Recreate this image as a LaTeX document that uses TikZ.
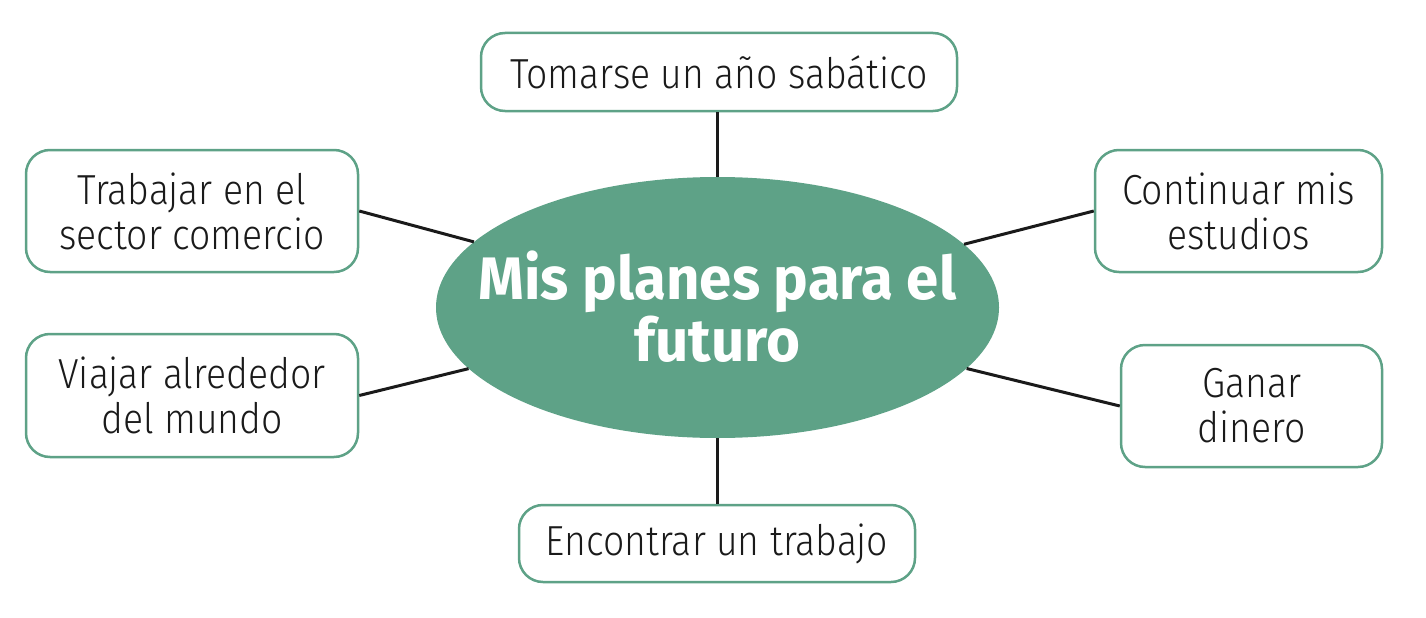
\documentclass[tikz,border=0pt]{standalone}
\usepackage{fontspec}
\setmainfont[FakeStretch=0.89]{Fira Sans Light}
\newfontfamily\titlefont[FakeStretch=0.97]{Fira Sans}
\usetikzlibrary{shapes.geometric}
\definecolor{grn}{HTML}{5EA287}
\definecolor{ln}{HTML}{1A1A1A}
\begin{document}
\begin{tikzpicture}[x=1pt,y=-1pt,
  box/.style={draw=grn, line width=2.5pt, rounded corners=24pt, fill=white,
    inner sep=0pt, align=center, text=ln, font=\fontsize{42}{45}\selectfont},
  conn/.style={draw=ln, line width=3pt},
  hub/.style={ellipse, fill=grn, minimum width=563pt, minimum height=261pt, inner sep=0pt},
  hubtext/.style={text=white, align=center, font=\titlefont\bfseries\fontsize{60}{62}\selectfont}]
\useasboundingbox (0,0) rectangle (1426,618);
\node[hub] (c) at (717.5,307.5) {};
\node[hubtext] (ct) at (717.5,307) {Mis planes para el\\futuro};
\node[box, minimum width=476pt, minimum height=78pt] (top) at (719,72) {Tomarse un año sabático};
\node[box, minimum width=332pt, minimum height=122pt] (lt) at (192,211) {Trabajar en el\\sector comercio};
\node[box, minimum width=332pt, minimum height=123pt] (lb) at (192,395.5) {Viajar alrededor\\del mundo};
\node[box, minimum width=287pt, minimum height=122pt] (rt) at (1238.5,211) {Continuar mis\\estudios};
\node[box, minimum width=261pt, minimum height=122pt] (rb) at (1251.5,406) {Ganar\\dinero};
\node[box, minimum width=396pt, minimum height=77pt] (bot) at (717,543.5) {Encontrar un trabajo};
\draw[conn] (c.north |- top.south) -- (c.north);
\draw[conn] (c.south |- bot.north) -- (c.south);
\draw[conn] (lt.east) -- (c);
\draw[conn] (lb.east) -- (c);
\draw[conn] (rt.west) -- (c);
\draw[conn] (rb.west) -- (c);
\end{tikzpicture}
\end{document}
